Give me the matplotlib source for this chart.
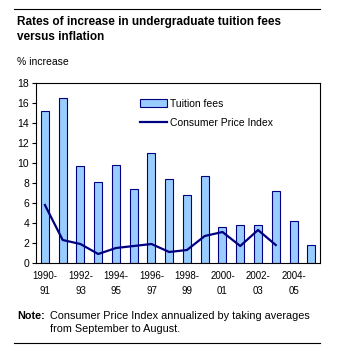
import numpy as np
import matplotlib.pyplot as plt
from matplotlib.lines import Line2D

plt.rcParams['font.family'] = ['Liberation Sans', 'DejaVu Sans']

years = ['1990-\n91', '1991-\n92', '1992-\n93', '1993-\n94', '1994-\n95', '1995-\n96',
         '1996-\n97', '1997-\n98', '1998-\n99', '1999-\n00', '2000-\n01', '2001-\n02',
         '2002-\n03', '2003-\n04', '2004-\n05', '2005-\n06']
tuition = [15.2, 16.5, 9.7, 8.1, 9.8, 7.4, 11.0, 8.4, 6.8, 8.7, 3.6, 3.8, 3.8, 7.2, 4.2, 1.8]
cpi = [5.8, 2.3, 1.9, 0.9, 1.5, 1.7, 1.9, 1.1, 1.3, 2.7, 3.1, 1.7, 3.3, 1.8]

bar_col = '#99ccff'
navy = '#000080'

fig = plt.figure(figsize=(3.37, 3.51), dpi=100)
ax = fig.add_axes([0.107, 0.2507, 0.843, 0.5128])

x = np.arange(len(years))
ax.bar(x, tuition, width=0.45, color=bar_col, edgecolor=navy, linewidth=0.8, zorder=2)
ax.plot(x[:len(cpi)], cpi, color=navy, linewidth=1.6, zorder=3)

ax.set_xlim(-0.5, len(years) - 0.5)
ax.set_ylim(0, 18)
ax.set_yticks(range(0, 19, 2))
ax.set_xticks(x[::2])
ax.set_xticklabels(years[::2], fontsize=7, linespacing=1.6)
ax.tick_params(axis='x', length=0, pad=6)
ax.tick_params(axis='y', length=3, width=0.8, labelsize=7.5, pad=2)
for s in ax.spines.values():
    s.set_linewidth(0.8)

handles = [plt.Rectangle((0, 0), 1, 1, facecolor=bar_col, edgecolor=navy, linewidth=0.8),
           Line2D([0], [0], color=navy, linewidth=1.6)]
ax.legend(handles, ['Tuition fees', 'Consumer Price Index'], loc='upper left',
          bbox_to_anchor=(0.351, 0.937), frameon=False, fontsize=7.5,
          handlelength=2.6, handleheight=0.7, handletextpad=0.3, labelspacing=0.9,
          borderaxespad=0)

fig.text(17 / 337, 1 - 16 / 351, 'Rates of increase in undergraduate tuition fees\nversus inflation',
         fontsize=8.5, fontweight='bold', va='top', ha='left', linespacing=1.3)
fig.text(17 / 337, 1 - 57 / 351, '% increase', fontsize=7.5, va='top', ha='left')

fig.text(17 / 337, 1 - 316 / 351, 'Note:', fontsize=7.8, fontweight='bold', va='center', ha='left')
fig.text(50 / 337, 1 - 316 / 351, 'Consumer Price Index annualized by taking averages',
         fontsize=7.8, va='center', ha='left')
fig.text(50 / 337, 1 - 329 / 351, 'from September to August.', fontsize=7.8, va='center', ha='left')

# horizontal rules above and below the chart
fig.add_artist(Line2D([14 / 337, 320 / 337], [1 - 9 / 351] * 2, color='black', linewidth=0.8))
fig.add_artist(Line2D([14 / 337, 320 / 337], [1 - 343 / 351] * 2, color='black', linewidth=0.8))

fig.savefig('out.png', dpi=100)
